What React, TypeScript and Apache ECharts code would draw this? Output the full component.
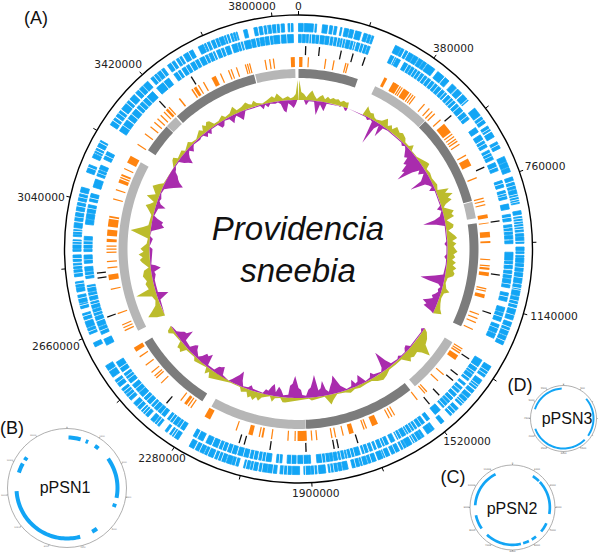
import React, { useEffect, useRef } from "react";
import * as echarts from "echarts";

const GENOME = 3870000;
const KB = 1000;

// chromosome features, genome position in kb [start, end]
const blueOuter = [[0,13],[16,41],[46,50],[66,80],[86,94],[99,106],[116,120],[127,139],[142,153],[158,174],[182,192],[195,202],[205,210],
[274,290],[292,300],[305,312],[316,330],[332,345],[348,360],[362,372],[375,400],[410,432],[436,450],[462,478],[482,498],[503,525],
[552,577],[582,602],[612,627],[632,647],[662,682],[707,722],[724,738],[740,752],[767,777],[782,800],[803,842],[862,872],[878,920],[925,932],[934,952],[962,972],[975,980],[985,990],
[992,1005],[1008,1030],[1033,1062],[1066,1097],[1100,1130],[1135,1165],[1172,1210],[1213,1238],
[1305,1340],[1350,1380],[1385,1395],[1400,1412],[1415,1440],[1450,1470],[1474,1480],[1503,1514],[1537,1543],[1544,1560],[1571,1577],[1579,1605],[1610,1626],[1628,1643],[1649,1672],[1678,1695],[1698,1712],[1718,1740],[1743,1762],[1765,1786],[1798,1812],[1815,1824],[1827,1852],[1860,1879],[1884,1900],[1902,1920],
[1932,1952],[1955,1986],[1995,2020],[2022,2044],[2049,2068],[2071,2087],[2102,2120],[2122,2136],[2139,2170],[2175,2200],[2203,2228],[2233,2247],
[2282,2310],[2318,2325],[2345,2360],[2363,2375],[2385,2410],[2415,2440],[2450,2470],[2473,2490],[2498,2520],[2530,2548],[2552,2567],
[2626,2638],[2663,2680],[2683,2700],[2705,2723],[2737,2750],[2753,2775],[2784,2795],[2797,2812],[2826,2845],[2848,2863],[2868,2886],[2896,2902],[2904,2928],[2937,2942],[2944,2956],[2961,2975],
[2980,3003],[3008,3031],[3036,3055],[3060,3074],[3117,3139],[3160,3172],[3175,3188],[3193,3212],
[3262,3285],[3290,3310],[3315,3345],[3350,3367],[3373,3400],[3403,3419],[3430,3450],[3453,3476],[3488,3511],[3517,3534],[3540,3569],[3586,3601],[3604,3620],[3625,3645],[3648,3660],[3663,3676],[3681,3686],[3689,3694],[3697,3700],[3718,3728],[3747,3756],[3761,3770],[3775,3785],[3787,3794],[3798,3817],[3822,3831],[3841,3855]];

const blueInner = [[0,8],[11,20],[23,48],[51,75],[78,100],[104,120],[123,135],[139,150],[153,165],[170,200],[203,210],
[274,290],[293,305],[318,340],[343,372],[376,396],[400,422],[426,448],[452,470],[475,505],[510,537],
[542,567],[597,612],[622,637],[642,662],[672,702],[712,737],[767,787],[797,822],[837,852],[867,887],[897,925],[928,952],[977,1000],
[1003,1025],[1030,1052],[1055,1080],[1095,1120],[1138,1152],[1155,1180],[1190,1215],[1218,1232],
[1303,1325],[1330,1350],[1353,1375],[1385,1392],[1400,1408],[1412,1420],[1425,1435],[1440,1460],[1463,1480],[1490,1510],[1530,1540],[1548,1570],[1575,1590],[1594,1608],[1612,1624],[1628,1640],[1648,1660],[1668,1685],[1690,1700],[1706,1712],[1718,1726],[1731,1748],[1755,1790],[1794,1798],[1802,1818],[1822,1832],[1835,1843],[1845,1882],[1900,1905],
[1906,1937],[1942,1968],[1983,1999],[2014,2050],[2055,2076],[2081,2112],[2117,2143],[2148,2169],[2174,2189],[2194,2210],[2220,2236],[2241,2251],
[2282,2305],[2308,2340],[2350,2375],[2378,2400],[2405,2430],[2435,2450],[2453,2480],[2487,2520],[2527,2560],
[2616,2635],[2650,2672],[2675,2704],[2708,2726],[2729,2748],[2753,2775],[2778,2797],[2817,2835],[2838,2851],[2861,2885],[2895,2902],[2905,2939],[2974,2988],
[2990,3005],[3008,3031],[3041,3064],[3083,3107],[3117,3135],[3138,3150],[3169,3193],
[3262,3300],[3305,3340],[3345,3368],[3372,3410],[3425,3470],[3488,3510],[3516,3540],[3545,3570],[3575,3600],[3604,3622],[3628,3650],[3655,3668],[3675,3690],[3693,3707],[3712,3730],[3733,3755],[3758,3770],[3773,3795],[3798,3815],[3820,3855]];

// thin breaks between neighbouring genes, kb
const outerBreaks = [520,590,620,670,790,815,822,830,836,882,890,897,905,912,945,1017,1045,1075,1080,1110,1120,1150,1185,1195,1225,1320,1330,1365,1372,1425,1432,1460,1590,1600,1635,1660,1690,1730,1755,1775,1836,1845,1890,1915,1965,1975,2005,2035,2060,2080,2110,2150,2160,2190,2215,2295,2302,2352,2395,2403,2425,2460,2480,2510,2670,2715,2745,2765,2805,2835,2855,2875,2915,2922,2950,2990,3020,3045,3130,3180,3205,3275,3300,3335,3385,3440,3465,3500,3525,3555,3610,3635,3668,3782,3808,3847];
const innerBreaks = [30,37,60,90,112,128,160,180,190,285,330,352,362,385,410,435,462,485,495,520,555,650,680,690,725,775,805,812,875,905,915,940,1012,1040,1068,1105,1165,1200,1342,1365,1450,1472,1558,1582,1602,1635,1678,1740,1770,1780,1810,1855,1865,1920,1955,1990,2030,2040,2065,2095,2130,2158,2295,2320,2330,2362,2390,2418,2465,2500,2510,2540,2660,2690,2715,2740,2765,2790,2825,2870,2915,2925,3020,3050,3125,3180,3280,3320,3355,3385,3450,3500,3528,3558,3590,3615,3640,3700,3745,3785,3835];

const blackMarks = [[20,24],[62,66],[129,133],[166,170],[204,208],[523,527],[710,714],[880,884],[1045,1049],[1165,1169],[1318,1322],[1378,1382],[1400,1404],[1461,1465],[1501,1505],[1750,1754],[1811,1815],[1824,1828],[1910,1914],[2020,2024],[2100,2104],[2116,2120],[2369,2373],[2690,2694],[2812,2816],[2827,2831],[3403,3407],[3525,3529]];

const orangeMarks = [[2,13],[30,34],[86,90],[113,117],[152,156],[159,163],
[286,296],[318,330],[322,340],[343,347],[350,354],[358,380],[384,388],[392,396],[400,404],[439,443],[460,464],[473,477],[484,488],[511,515],[530,565],[570,574],[580,584],[590,594],[598,602],[610,614],[651,655],[665,690],[731,735],[800,804],[810,814],[822,826],[855,868],[882,885],[912,930],[942,948],[1000,1004],[1020,1024],[1028,1035],[1043,1055],[1094,1098],[1102,1106],[1115,1127],[1180,1184],[1194,1198],[1208,1212],[1232,1236],
[1303,1307],[1311,1315],[1318,1323],[1330,1347],[1405,1409],[1432,1436],[1482,1486],[1490,1494],[1522,1526],[1610,1614],[1620,1624],[1630,1634],[1672,1692],[1710,1714],[1718,1722],[1755,1770],[1788,1792],[1813,1817],[1825,1829],[1874,1878],[1890,1894],
[1908,1938],[1944,1948],[1967,1971],[2020,2024],[2049,2055],[2060,2064],[2084,2098],[2137,2141],[2230,2250],[2300,2304],[2310,2314],[2318,2328],[2340,2344],[2424,2428],[2447,2451],[2455,2459],[2470,2474],[2500,2504],[2533,2537],[2555,2570],
[2630,2634],[2640,2644],[2650,2654],[2689,2693],[2770,2774],[2802,2820],[2840,2844],[2860,2864],[2890,2894],[2900,2904],[2910,2914],[2925,2935],[2945,2965],[2975,3000],[3004,3010],[3063,3067],[3094,3098],[3120,3132],[3136,3140],[3144,3150],[3167,3171],[3190,3215],
[3256,3260],[3297,3301],[3326,3330],[3345,3349],[3360,3364],[3375,3379],[3390,3394],[3400,3408],[3412,3416],[3455,3460],[3505,3510],[3514,3524],[3530,3534],[3549,3553],[3580,3595],[3610,3614],[3638,3642],[3647,3651],[3665,3669],[3695,3699],[3702,3706],[3709,3713],[3760,3764],[3775,3779],[3787,3791],[3845,3858]];

const grayDark = [[0,207],[481,801],[879,1241],[1522,1909],[2282,2567],[3260,3363],[3413,3716]];
const grayLight = [[271,479],[804,862],[1303,1502],[1910,2246],[2612,3212],[3365,3408],[3720,3859]];

// GC skew profile [kb, amplitude]
const gcUp = [[0,0],[3,20],[11,8],[22,6],[32,3],[43,7],[54,10],[65,5],[75,2],[86,5],[97,7],[108,3],[118,6],[129,4],[140,6],[151,5],[161,6],[172,4],[183,6],[194,5],[204,6],[207,0],
[274,0],[280,10],[290,7],[301,5],[312,6],[322,3],[333,2],[355,4],[371,9],[387,3],[398,6],[409,3],[419,8],[441,5],[452,7],[473,5],[484,2],[505,2],[516,6],[527,1],[559,1],[602,6],[613,7],[624,2],[645,3],[667,2],[699,4],[720,2],[731,13],[742,8],[753,15],[763,9],[774,12],[785,5],[796,2],[806,6],[817,11],[828,8],[839,10],[849,2],[871,8],[882,7],[892,2],[914,8],[925,10],[935,5],[946,9],[957,6],[968,8],[978,10],[989,6],[1000,8],[1011,5],[1021,9],[1032,6],[1043,10],[1054,7],[1064,9],[1075,8],[1086,3],[1107,2],[1129,4],[1140,8],[1150,3],[1172,2],[1193,3],[1215,5],[1231,8],[1242,0],
[1312,0],[1322,4],[1344,8],[1365,10],[1387,20],[1398,12],[1408,8],[1430,9],[1441,7],[1451,10],[1462,6],[1473,2],[1505,2],[1537,2],[1559,5],[1580,7],[1602,5],[1623,2],[1645,2],[1677,3],[1699,2],[1720,4],[1741,2],[1774,1],[1795,6],[1806,10],[1817,5],[1827,1],[1881,3],[1892,1],[1989,5],[1999,5],[2010,1],[2032,2],[2042,6],[2053,1],[2085,4],[2096,8],[2107,5],[2118,9],[2129,6],[2139,8],[2150,3],[2171,5],[2182,1],[2225,1],[2311,8],[2322,3],[2333,7],[2343,1],[2397,4],[2408,1],[2451,2],[2462,8],[2472,6],[2483,7],[2494,1],[2537,2],[2548,6],[2558,5],[2569,0],
[2618,0],[2626,8],[2640,16],[2655,10],[2670,5],[2690,3],[2709,5],[2727,20],[2741,6],[2763,8],[2773,6],[2795,9],[2816,7],[2827,2],[2849,8],[2860,10],[2870,7],[2881,11],[2892,6],[2903,9],[2924,3],[2945,2],[2972,20],[2989,8],[2999,3],[3042,2],[3064,7],[3075,10],[3085,6],[3096,3],[3112,12],[3128,4],[3154,10],[3171,5],[3182,1],[3257,0],[3279,5],[3290,6],[3300,2],[3333,4],[3343,1],[3376,5],[3386,2],[3408,1],[3440,6],[3451,3],[3462,8],[3472,5],[3483,8],[3494,7],[3505,2],[3526,2],[3548,5],[3558,2],[3580,3],[3601,8],[3612,3],[3634,4],[3655,7],[3666,4],[3677,3],[3687,6],[3698,3],[3720,1],[3741,3],[3763,6],[3773,4],[3784,8],[3795,5],[3806,2],[3827,4],[3838,2],[3849,3],[3859,6],[3867,20],[3869,0]];

const gcDown = [[0,0],[22,0],[32,5],[43,1],[65,1],[78,14],[91,3],[110,9],[118,1],[188,0],[199,3],[204,3],[207,0],
[290,1],[301,3],[312,1],[322,2],[333,25],[344,7],[355,2],[366,13],[376,2],[398,1],[473,1],[484,3],[495,1],[505,3],[527,9],[538,7],[548,14],[559,12],[570,20],[580,18],[591,28],[602,12],[613,5],[624,8],[634,3],[645,6],[656,9],[667,22],[677,7],[688,4],[699,2],[710,6],[720,1],[785,1],[796,5],[806,1],[828,4],[839,10],[849,22],[860,9],[871,1],[935,1],[946,3],[957,1],[989,1],[1000,3],[1011,1],[1032,1],[1075,2],[1086,10],[1104,24],[1113,15],[1118,5],[1129,2],[1140,4],[1150,3],[1161,5],[1172,8],[1183,6],[1193,10],[1204,15],[1215,10],[1226,12],[1236,3],[1242,0],
[1312,0],[1322,3],[1333,1],[1408,1],[1419,5],[1430,4],[1441,1],[1462,1],[1473,3],[1484,1],[1516,2],[1527,8],[1543,20],[1553,10],[1559,4],[1570,1],[1602,3],[1612,6],[1623,2],[1645,1],[1666,10],[1677,4],[1688,3],[1699,8],[1709,2],[1731,1],[1752,6],[1774,18],[1784,12],[1795,8],[1806,3],[1817,6],[1827,15],[1838,8],[1849,6],[1860,22],[1870,16],[1881,10],[1892,8],[1903,2],[1919,3],[1924,8],[1935,10],[1951,22],[1962,14],[1973,12],[1978,3],[1999,2],[2010,7],[2021,10],[2032,4],[2042,12],[2053,9],[2064,4],[2075,5],[2085,1],[2129,2],[2139,5],[2150,2],[2171,1],[2182,6],[2193,15],[2204,10],[2214,7],[2225,3],[2236,0],[2268,2],[2279,10],[2290,8],[2300,7],[2311,2],[2343,2],[2354,13],[2365,9],[2376,10],[2386,5],[2397,2],[2419,6],[2430,10],[2440,8],[2451,3],[2483,4],[2494,15],[2505,9],[2516,8],[2526,5],[2537,2],[2558,1],[2569,0],
[2623,0],[2687,2],[2698,8],[2706,12],[2714,6],[2720,2],[2752,2],[2773,2],[2795,4],[2806,3],[2820,10],[2833,5],[2838,1],[2903,3],[2913,0],[2945,3],[2956,0],[2978,1],[2989,8],[2999,13],[3010,10],[3021,11],[3032,5],[3042,1],[3075,3],[3085,10],[3096,4],[3107,2],[3118,3],[3139,1],[3160,2],[3171,6],[3182,10],[3193,14],[3204,18],[3214,13],[3225,10],[3236,8],[3247,4],[3257,3],[3268,1],[3290,1],[3300,6],[3311,9],[3322,13],[3333,7],[3343,4],[3354,2],[3365,6],[3376,3],[3386,1],[3419,2],[3429,1],[3440,1],[3451,5],[3462,2],[3472,5],[3483,1],[3515,1],[3526,6],[3537,5],[3548,1],[3569,2],[3580,8],[3591,4],[3601,2],[3612,5],[3623,9],[3634,5],[3644,1],[3709,1],[3720,5],[3730,1],[3741,4],[3752,1],[3773,2],[3784,1],[3795,3],[3806,10],[3816,12],[3827,3],[3838,5],[3849,8],[3859,4],[3865,0]];

// plasmid features, bp [start, end]
const psn1Arcs = [[78,716],[990,1126],[1528,1756],[2485,4615],[4925,5107],[6544,6840],[7510,12139],[13110,13620],[13817,13999]];
const psn2Arcs = [[9117,11100],[7853,8600],[5567,7433],[5133,5450],[4700,4967],[3833,4333],[1567,3333],[1100,1500]];
const psn3Arcs = [[4800,5943],[817,2083],[2250,4167]];

const tickStep = 190000;
const tickLabels = [0,380000,760000,1140000,1520000,1900000,2280000,2660000,3040000,3420000,3800000];
const labelShift = [[0,-9],[19.6,-10],[25.7,-4.7],[30.6,2.5],[22.5,10],[4,10.4],[-12.2,10.8],[-26.5,8],[-29.3,0],[-24.2,-9.8],[-20,-10.5]];

const C = { blue: "#12a5f5", orange: "#ff8410", black: "#111111", dark: "#7c7c7c", light: "#b6b6b6", yellow: "#bcbc2c", purple: "#a92cad" };

function track(list: number[][], r0: number, r1: number, fill: string, unit: number, step: number, polarIndex = 0, z = 2, grow = 0) {
  return {
    type: "custom", coordinateSystem: "polar", polarIndex, silent: true, z, clip: false,
    data: list.map((d) => [d[0] * unit, d[1] * unit]),
    renderItem: (_: any, api: any) => {
      const a = api.value(0), b = api.value(1);
      const n = Math.max(1, Math.ceil((b - a) / step));
      const pts: number[][] = [];
      for (let i = 0; i <= n; i++) pts.push(api.coord([r1, a + ((b - a) * i) / n]));
      for (let i = n; i >= 0; i--) pts.push(api.coord([r0, a + ((b - a) * i) / n]));
      return { type: "polygon", shape: { points: pts }, style: grow ? { fill, stroke: fill, lineWidth: grow } : { fill } };
    },
  };
}

function skew(list: number[][], base: number, sign: number, fill: string) {
  return {
    type: "custom", coordinateSystem: "polar", silent: true, z: 3, clip: false,
    data: list.map((d) => [d[0] * KB, d[1]]),
    renderItem: (p: any, api: any) => {
      if (p.dataIndex !== 0) return null;
      const top = list.map((d) => api.coord([base + sign * d[1], d[0] * KB]));
      const bottom = list.slice().reverse().map((d) => api.coord([base, d[0] * KB]));
      return { type: "polygon", shape: { points: top.concat(bottom) }, style: { fill } };
    },
  };
}

function tickText() {
  return {
    type: "custom", coordinateSystem: "polar", silent: true, z: 5, clip: false,
    data: tickLabels.map((v) => [v]),
    renderItem: (p: any, api: any) => {
      const pt = api.coord([234, api.value(0)]);
      const s = labelShift[p.dataIndex];
      return {
        type: "text", x: pt[0] + s[0], y: pt[1] + s[1],
        style: { text: String(tickLabels[p.dataIndex]), fill: "#222", font: "10.7px 'DejaVu Sans'", textAlign: "center", textVerticalAlign: "middle" },
      };
    },
  };
}

function smallAxis(polarIndex: number, max: number, interval: number, fontSize: number, skip: number[]) {
  return {
    polarIndex, type: "value", min: 0, max, interval, startAngle: 90, clockwise: true,
    axisLine: { lineStyle: { color: "#9a9a9a", width: 0.8 } },
    axisTick: { length: 1.2, lineStyle: { color: "#666", width: 0.6 } },
    axisLabel: { fontSize, color: "#666", margin: 0.5, fontFamily: "DejaVu Sans", hideOverlap: false, formatter: (v: number) => (v >= max || skip.includes(v) ? "" : String(v)) },
    splitLine: { show: false }, minorTick: { show: false },
  };
}

function label(text: string, x: number, y: number, size: number, italic = false) {
  return { type: "text", x, y, silent: true, style: { text, fill: "#111", font: `${italic ? "italic " : ""}${size}px 'Liberation Sans'`, textAlign: "center", textVerticalAlign: "middle" } };
}

export default function App() {
  const ref = useRef<HTMLDivElement>(null);
  useEffect(() => {
    document.body.style.margin = "0";
    const chart = echarts.init(ref.current!, undefined, { renderer: "svg" });
    const radial = (polarIndex: number, max: number) => ({ polarIndex, type: "value", min: 0, max, show: false, axisLine: { show: false }, axisTick: { show: false }, axisLabel: { show: false }, splitLine: { show: false } });
    chart.setOption({
      animation: false,
      backgroundColor: "#ffffff",
      polar: [
        { center: [298.5, 249], radius: [0, 234] },
        { center: [67, 488], radius: [0, 59.5] },
        { center: [512.5, 507.5], radius: [0, 42.5] },
        { center: [563.5, 418.5], radius: [0, 33] },
      ],
      radiusAxis: [radial(0, 234), radial(1, 59.5), radial(2, 42.5), radial(3, 33)],
      angleAxis: [
        {
          polarIndex: 0, type: "value", min: 0, max: GENOME, interval: tickStep, startAngle: 90, clockwise: true,
          axisLine: { lineStyle: { color: "#000", width: 1.4 } },
          axisTick: { length: 4, lineStyle: { color: "#000", width: 1 } },
          axisLabel: { show: false },
          splitLine: { show: false }, minorTick: { show: false },
        },
        smallAxis(1, 16400, 1500, 2, []),
        smallAxis(2, 12000, 1000, 2.4, []),
        smallAxis(3, 6000, 500, 2.4, [1500, 1000, 2000]),
      ],
      series: [
        track(blueOuter, 217.4, 225.6, C.blue, KB, 20 * KB, 0, 2, 0.8),
        track(blueInner, 206.4, 214.6, C.blue, KB, 20 * KB, 0, 2, 0.8),
        track(outerBreaks.map((v) => [v, v + 2]), 216.5, 226.5, "#ffffff", KB, 20 * KB, 0, 2.5),
        track(innerBreaks.map((v) => [v, v + 2]), 205.5, 215.5, "#ffffff", KB, 20 * KB, 0, 2.5),
        track(blackMarks, 194, 203, C.black, KB, 20 * KB),
        track(orangeMarks, 182, 192, C.orange, KB, 20 * KB),
        track(grayDark, 171, 180, C.dark, KB, 10 * KB),
        track(grayLight, 171, 180, C.light, KB, 10 * KB),
        skew(gcUp, 149, 1, C.yellow),
        skew(gcDown, 149, -1, C.purple),
        tickText(),
        track(psn1Arcs, 48.5, 52.5, C.blue, 1, 100, 1),
        track(psn2Arcs, 36, 38.7, C.blue, 1, 100, 2),
        track(psn3Arcs, 29, 31, C.blue, 1, 50, 3),
      ],
      graphic: [
        label("Providencia", 298, 228, 33, true),
        label("sneebia", 298, 270, 33, true),
        label("(A)", 36, 18, 18),
        label("(B)", 12, 428, 18),
        label("(C)", 453, 477, 18),
        label("(D)", 520, 385, 18),
        label("pPSN1", 65, 487, 16),
        label("pPSN2", 512, 508, 16),
        label("pPSN3", 567, 418, 16),
      ],
    });
    return () => chart.dispose();
  }, []);
  return <div ref={ref} style={{ width: 600, height: 553 }} />;
}
